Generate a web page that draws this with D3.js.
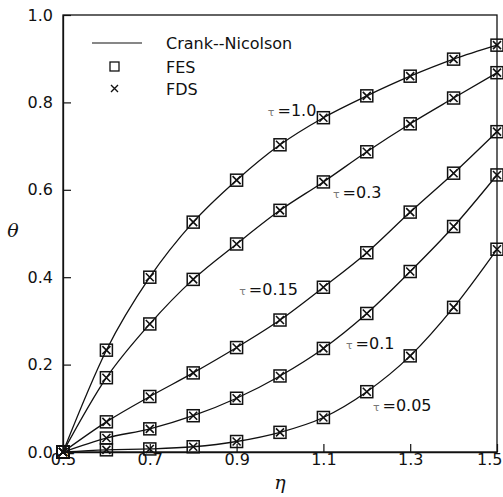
<!DOCTYPE html>
<html>
<head>
<meta charset="utf-8">
<script src="https://cdn.jsdelivr.net/npm/d3@7"></script>
<style>
	body { margin: 0; background: #fff; }
	svg { display: block; font-family: "DejaVu Sans", sans-serif; }
</style>
</head>
<body>
<svg id="chart" width="503" height="497"></svg>
<script>
// Values
const gammaValues = [0.5, 0.6, 0.7, 0.8, 0.9, 1.0, 1.1, 1.2, 1.3, 1.4, 1.5];
const tauValues = ["1.0", "0.3", "0.15", "0.1", "0.05"];
const theta_tau100 = [0, 0.233, 0.40, 0.526, 0.622, 0.703, 0.765, 0.815, 0.860, 0.899, 0.931];
const theta_tau030 = [0, 0.170, 0.293, 0.395, 0.476, 0.553, 0.618, 0.687, 0.751, 0.810, 0.868];
const theta_tau015 = [0, 0.069, 0.127, 0.181, 0.239, 0.302, 0.377, 0.456, 0.549, 0.638, 0.733];
const theta_tau010 = [0, 0.032, 0.053, 0.083, 0.123, 0.174, 0.237, 0.317, 0.413, 0.516, 0.634];
const theta_tau005 = [0, 0.005, 0.007, 0.012, 0.024, 0.045, 0.079, 0.138, 0.220, 0.331, 0.464];
const xTicks = [0.5, 0.7, 0.9, 1.1, 1.3, 1.5];
const yTicks = [0.0, 0.2, 0.4, 0.6, 0.8, 1.0];
const legendItems = ["Crank--Nicolson", "FES", "FDS"];

const series = [theta_tau100, theta_tau030, theta_tau015, theta_tau010, theta_tau005];
// label anchor positions, in data units (gamma, theta)
const labelPos = [[0.972, 0.769], [1.122, 0.581], [0.906, 0.359], [1.152, 0.236], [1.214, 0.094]];

// layout
const margin = { left: 63, top: 15, right: 6, bottom: 45 };
const width = 503, height = 497;

const svg = d3.select("#chart");
const x = d3.scaleLinear().domain([0.5, 1.5]).range([margin.left, width - margin.right]);
const y = d3.scaleLinear().domain([0, 1]).range([height - margin.bottom, margin.top]);

const ink = "#111";
const fs = 16;

// frame
svg.append("rect")
	.attr("x", x(0.5)).attr("y", y(1))
	.attr("width", x(1.5) - x(0.5)).attr("height", y(0) - y(1))
	.attr("fill", "none").attr("stroke", ink).attr("stroke-width", 1.3);

// axes, ticks inward
const xAxis = svg.append("g")
	.attr("transform", `translate(0,${y(0)})`)
	.call(d3.axisBottom(x).tickValues(xTicks).tickSizeInner(-8).tickSizeOuter(0).tickPadding(2).tickFormat(d3.format(".1f")));
const yAxis = svg.append("g")
	.attr("transform", `translate(${x(0.5)},0)`)
	.call(d3.axisLeft(y).tickValues(yTicks).tickSizeInner(-8).tickSizeOuter(0).tickPadding(10).tickFormat(d3.format(".1f")));
[xAxis, yAxis].forEach((a) => {
	a.select(".domain").attr("stroke", ink).attr("stroke-width", 1.3);
	a.selectAll(".tick line").attr("stroke", ink).attr("stroke-width", 1.2);
	a.selectAll(".tick text").attr("fill", ink).attr("font-size", fs).attr("font-family", "DejaVu Sans, sans-serif");
});
// last x label sits against the right edge
xAxis.selectAll(".tick text").filter((d) => d === 1.5)
	.attr("text-anchor", "end").attr("x", 5);

// axis titles
svg.append("text")
	.attr("x", 13).attr("y", 237)
	.attr("text-anchor", "middle")
	.attr("font-family", "DejaVu Serif, serif")
	.attr("font-style", "italic")
	.attr("font-size", 19)
	.attr("fill", ink)
	.text("θ");
svg.append("text")
	.attr("x", 280).attr("y", 489)
	.attr("text-anchor", "middle")
	.attr("font-family", "DejaVu Serif, serif")
	.attr("font-style", "italic")
	.attr("font-size", 19)
	.attr("fill", ink)
	.text("η");

// curves
const line = d3.line()
	.x((d, i) => x(gammaValues[i]))
	.y((d) => y(d))
	.curve(d3.curveMonotoneX);

svg.append("g").selectAll("path")
	.data(series)
	.join("path")
	.attr("d", (d) => line(d))
	.attr("fill", "none")
	.attr("stroke", ink)
	.attr("stroke-width", 1.3);

// markers: FES squares + FDS crosses
const pts = series.flatMap((s) => s.map((v, i) => ({ g: gammaValues[i], v: v })));
const mk = svg.append("g").selectAll("g")
	.data(pts)
	.join("g")
	.attr("transform", (d) => `translate(${x(d.g)},${y(d.v)})`);
const sq = 6, cr = 4;
mk.append("rect")
	.attr("x", -sq).attr("y", -sq).attr("width", sq * 2).attr("height", sq * 2)
	.attr("fill", "none").attr("stroke", ink).attr("stroke-width", 1.5);
mk.append("path")
	.attr("d", `M${-cr},${-cr}L${cr},${cr}M${-cr},${cr}L${cr},${-cr}`)
	.attr("stroke", ink).attr("stroke-width", 1.6);

// tau labels
const tl = svg.append("g").selectAll("text")
	.data(tauValues)
	.join("text")
	.attr("x", (d, i) => x(labelPos[i][0]))
	.attr("y", (d, i) => y(labelPos[i][1]))
	.attr("font-size", fs)
	.attr("fill", ink);
tl.append("tspan").attr("font-size", 11).attr("fill", "#777").text("τ");
tl.append("tspan").attr("dx", 3).text((d) => "=" + d);

// legend
const lg = svg.append("g").attr("transform", "translate(92,43)");
lg.append("line").attr("x1", 0).attr("x2", 50).attr("y1", 0).attr("y2", 0)
	.attr("stroke", ink).attr("stroke-width", 1.2);
lg.append("rect").attr("x", 18).attr("y", 19).attr("width", 9).attr("height", 9)
	.attr("fill", "none").attr("stroke", ink).attr("stroke-width", 1.3);
lg.append("path").attr("d", "M19,42L26,49M19,49L26,42")
	.attr("stroke", ink).attr("stroke-width", 1.4);
lg.selectAll("text.leg")
	.data(legendItems)
	.join("text")
	.attr("class", "leg")
	.attr("x", 74)
	.attr("y", (d, i) => [6, 30, 52][i])
	.attr("font-size", fs)
	.attr("fill", ink)
	.text((d) => d);
</script>
</body>
</html>
